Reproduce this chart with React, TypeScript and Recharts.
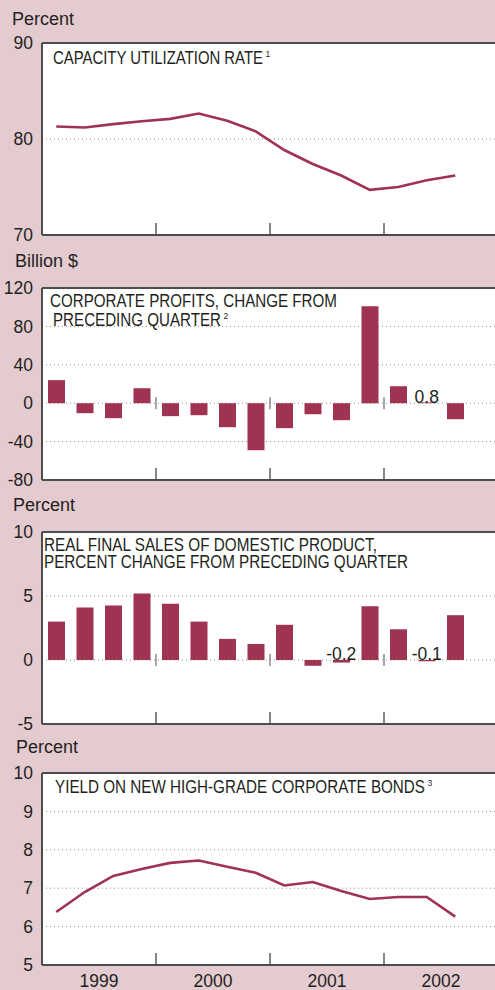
import React from "react";
import {
  BarChart,
  Bar,
  LineChart,
  Line,
  XAxis,
  YAxis,
  CartesianGrid,
  ReferenceLine,
  ReferenceDot,
} from "recharts";

// quarters 1999 Q1 .. 2002 Q4
const years = [1999, 2000, 2001, 2002];
const quarterNames = ["Q1", "Q2", "Q3", "Q4"];

const capacityRate = [81.3, 81.2, 81.55, 81.85, 82.1, 82.65, 81.9, 80.8, 78.85, 77.4, 76.2, 74.7, 75.0, 75.7, 76.2, null];
const profitChange = [24, -10.4, -15.6, 15.6, -13.5, -12.5, -25, -49, -26, -11.5, -17.7, 101, 17.7, 0.8, -16.7, null];
const salesChange = [3.0, 4.1, 4.25, 5.2, 4.4, 3.0, 1.65, 1.25, 2.75, -0.45, -0.2, 4.2, 2.4, -0.1, 3.5, null];
const bondYield = [6.38, 6.9, 7.32, 7.5, 7.66, 7.72, 7.56, 7.4, 7.07, 7.16, 6.93, 6.72, 6.77, 6.77, 6.26, null];

// quarters whose small values are written out as text
const profitLabelIdx = [13];
const salesLabelIdx = [10, 13];

const capacityTicks = [70, 80, 90];
const profitTicks = [-80, -40, 0, 40, 80, 120];
const salesTicks = [-5, 0, 5, 10];
const yieldTicks = [5, 6, 7, 8, 9, 10];

const yearEdges = [4, 8, 12];
const yearMids = [2, 6, 10, 14];

const PINK = "#e4cbd0";
const WINE = "#a03252";
const INK = "#231f20";
const FRAME = "#4d4d4d";
const FONT = "'Liberation Sans', Arial, Helvetica, sans-serif";
const NARROW = "'Liberation Sans Narrow', 'Liberation Sans', Arial, sans-serif";

const PLOT_H = 192;
const PAD = 12;

function rows(values: (number | null)[]) {
  return values.map((v, i) => ({
    x: i + 0.5,
    q: `${years[Math.floor(i / 4)]} ${quarterNames[i % 4]}`,
    v,
  }));
}

interface PanelProps {
  top: number;
  kind: "bar" | "line";
  values: (number | null)[];
  ticks: number[];
  labelIdx?: number[];
  showYears?: boolean;
}

function Panel({ top, kind, values, ticks, labelIdx = [], showYears = false }: PanelProps) {
  const data = rows(values);
  const domain: [number, number] = [ticks[0], ticks[ticks.length - 1]];
  const bottom = showYears ? 30 : PAD;
  const ChartType: any = kind === "bar" ? BarChart : LineChart;

  return (
    <div style={{ position: "absolute", left: 0, top: top - PAD }}>
      <ChartType
        width={498}
        height={PAD + PLOT_H + bottom}
        data={data}
        margin={{ top: PAD, right: 0, bottom: showYears ? 0 : PAD, left: 0 }}
        barSize={17}
      >
        <CartesianGrid fill="#fff" vertical={false} stroke="#8a8a8a" strokeDasharray="1 3" />
        <XAxis
          type="number"
          dataKey="x"
          domain={[0, 16]}
          ticks={yearMids}
          interval={0}
          allowDataOverflow
          hide={!showYears}
          height={30}
          axisLine={false}
          tickLine={false}
          tickMargin={4}
          tickFormatter={(v: number) => String(years[Math.floor(v / 4)])}
          tick={{ fontSize: 17.5, fill: INK, fontFamily: FONT }}
        />
        <YAxis
          type="number"
          domain={domain}
          ticks={ticks}
          interval={0}
          allowDataOverflow
          width={42}
          axisLine={{ stroke: FRAME, strokeWidth: 2 }}
          tickLine={false}
          tickSize={0}
          tickMargin={9}
          tick={{ fontSize: 17.5, fill: INK, fontFamily: FONT }}
        />
        {kind === "bar" ? (
          <Bar dataKey="v" fill={WINE} isAnimationActive={false} />
        ) : (
          <Line
            dataKey="v"
            type="linear"
            stroke={WINE}
            strokeWidth={2.6}
            dot={false}
            activeDot={false}
            isAnimationActive={false}
          />
        )}
        <ReferenceLine y={domain[1]} stroke={FRAME} strokeWidth={2} />
        <ReferenceLine y={domain[0]} stroke={FRAME} strokeWidth={2} />
        {yearEdges.map((e) => (
          <ReferenceDot
            key={"b" + e}
            x={e}
            y={domain[0]}
            r={0}
            shape={(p: any) => (
              <line x1={p.cx} x2={p.cx} y1={p.cy} y2={p.cy - 12} stroke="#444" strokeWidth={1.3} />
            )}
          />
        ))}
        {kind === "bar" &&
          yearEdges.map((e) => (
            <ReferenceDot
              key={"z" + e}
              x={e}
              y={0}
              r={0}
              shape={(p: any) => (
                <line x1={p.cx} x2={p.cx} y1={p.cy - 6} y2={p.cy + 6} stroke="#777" strokeWidth={1.3} />
              )}
            />
          ))}
        {labelIdx.map((i) => (
          <ReferenceDot
            key={"l" + i}
            x={i + 0.5}
            y={0}
            r={0}
            shape={(p: any) => (
              <text
                x={p.cx}
                y={p.cy - 0.5}
                textAnchor="middle"
                fontSize={17.5}
                fontFamily={FONT}
                fill={INK}
              >
                {(values[i] as number).toFixed(1)}
              </text>
            )}
          />
        ))}
      </ChartType>
    </div>
  );
}

// title line; an optional footnote mark rides in the same text element
function Title({ x, y, w, note, children }: { x: number; y: number; w: number; note?: string; children: string }) {
  return (
    <text x={x} y={y} fontSize={17.5} fontFamily={NARROW} fill={INK}>
      <tspan textLength={w} lengthAdjust="spacingAndGlyphs">
        {children}
      </tspan>
      {note && (
        <tspan x={x + w + 2.5} y={y - 7} fontSize={8.5} fontFamily={FONT}>
          {note}
        </tspan>
      )}
    </text>
  );
}

function Unit({ x, y, children }: { x: number; y: number; children: string }) {
  return (
    <text x={x} y={y} fontSize={18} fontFamily={FONT} fill={INK}>
      {children}
    </text>
  );
}

export default function App() {
  return (
    <div
      style={{
        position: "absolute",
        left: 0,
        top: 0,
        width: 495,
        height: 990,
        background: PINK,
        overflow: "hidden",
      }}
    >
      <Panel top={43} kind="line" values={capacityRate} ticks={capacityTicks} />
      <Panel top={288} kind="bar" values={profitChange} ticks={profitTicks} labelIdx={profitLabelIdx} />
      <Panel top={532} kind="bar" values={salesChange} ticks={salesTicks} labelIdx={salesLabelIdx} />
      <Panel top={773} kind="line" values={bondYield} ticks={yieldTicks} showYears />

      <svg
        width={495}
        height={990}
        style={{ position: "absolute", left: 0, top: 0, pointerEvents: "none" }}
      >
        <Unit x={12} y={25}>Percent</Unit>
        <Unit x={15} y={267}>Billion $</Unit>
        <Unit x={13} y={511}>Percent</Unit>
        <Unit x={16} y={753}>Percent</Unit>

        <Title x={53} y={64} w={210} note="1">CAPACITY UTILIZATION RATE</Title>

        <Title x={50} y={307} w={287}>CORPORATE PROFITS, CHANGE FROM</Title>
        <Title x={53} y={326} w={168} note="2">PRECEDING QUARTER</Title>

        <Title x={44} y={551} w={333}>REAL FINAL SALES OF DOMESTIC PRODUCT,</Title>
        <Title x={44} y={568} w={364}>PERCENT CHANGE FROM PRECEDING QUARTER</Title>

        <Title x={55} y={793} w={370} note="3">YIELD ON NEW HIGH-GRADE CORPORATE BONDS</Title>
      </svg>
    </div>
  );
}
